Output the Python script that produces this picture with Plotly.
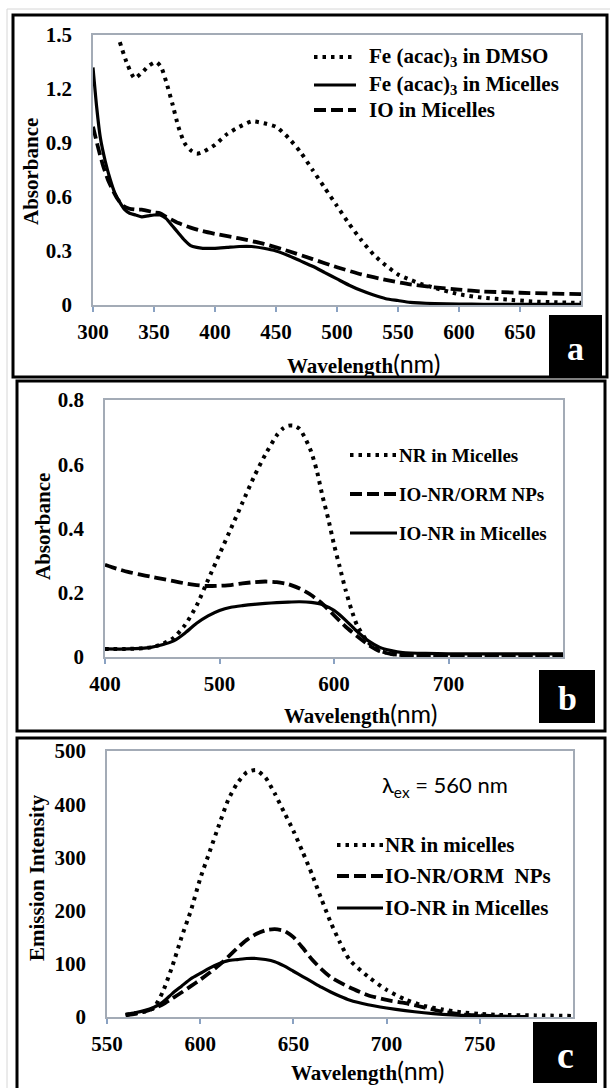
import plotly.graph_objects as go

W, H = 610, 1088

# ---------------- data ----------------
# Panel a
a_dmso_x = [322, 328, 334, 340, 346, 352, 356, 360, 365, 370, 375, 380, 385, 390, 400, 410, 420, 430, 440,
            450, 460, 470, 480, 490, 500, 510, 520, 530, 540, 550, 560, 570, 580, 600, 620, 640, 660, 680, 700]
a_dmso_y = [1.46, 1.34, 1.26, 1.29, 1.33, 1.35, 1.32, 1.24, 1.12, 0.99, 0.90, 0.86, 0.84, 0.85, 0.89, 0.95, 0.99,
            1.02, 1.01, 0.99, 0.93, 0.85, 0.75, 0.65, 0.55, 0.45, 0.36, 0.28, 0.22, 0.17, 0.14, 0.115, 0.095,
            0.06, 0.04, 0.03, 0.02, 0.015, 0.012]
a_mic_x = [300, 303, 306, 310, 314, 318, 322, 326, 330, 335, 340, 345, 350, 355, 360, 365, 370, 375, 380, 385,
           390, 400, 410, 420, 430, 440, 450, 460, 470, 480, 490, 500, 510, 520, 530, 540, 550, 560, 580, 600,
           620, 650, 700]
a_mic_y = [1.32, 1.10, 0.93, 0.80, 0.70, 0.62, 0.57, 0.53, 0.51, 0.50, 0.49, 0.495, 0.50, 0.50, 0.48, 0.44, 0.40,
           0.36, 0.33, 0.32, 0.315, 0.315, 0.32, 0.325, 0.325, 0.315, 0.30, 0.275, 0.245, 0.215, 0.18, 0.145,
           0.11, 0.08, 0.055, 0.035, 0.025, 0.015, 0.008, 0.005, 0.004, 0.003, 0.003]
a_io_x = [300, 304, 308, 312, 316, 320, 325, 330, 335, 340, 350, 355, 360, 370, 380, 390, 400, 420, 440, 460,
          480, 500, 520, 540, 560, 580, 600, 620, 650, 700]
a_io_y = [0.99, 0.88, 0.78, 0.70, 0.64, 0.59, 0.55, 0.535, 0.53, 0.53, 0.515, 0.51, 0.49, 0.455, 0.43, 0.41,
          0.395, 0.37, 0.34, 0.30, 0.255, 0.21, 0.17, 0.14, 0.115, 0.098, 0.085, 0.075, 0.068, 0.06]

# Panel b
b_nr_x = [400, 420, 440, 450, 460, 470, 480, 490, 500, 510, 520, 530, 540, 550, 555, 560, 565, 570, 575, 580,
          585, 590, 595, 600, 605, 610, 615, 620, 630, 640, 650, 660, 680, 700, 750, 800]
b_nr_y = [0.025, 0.025, 0.03, 0.04, 0.06, 0.10, 0.16, 0.24, 0.32, 0.40, 0.48, 0.56, 0.63, 0.69, 0.71, 0.72,
          0.72, 0.71, 0.68, 0.64, 0.58, 0.50, 0.43, 0.35, 0.28, 0.21, 0.15, 0.10, 0.045, 0.02, 0.01, 0.006,
          0.005, 0.005, 0.005, 0.005]
b_orm_x = [400, 410, 420, 430, 440, 450, 460, 470, 480, 490, 500, 510, 520, 530, 540, 550, 560, 570, 580, 590,
           600, 610, 620, 630, 640, 650, 660, 680, 700, 750, 800]
b_orm_y = [0.287, 0.275, 0.265, 0.257, 0.25, 0.243, 0.236, 0.229, 0.224, 0.221, 0.222, 0.224, 0.229, 0.233,
           0.235, 0.233, 0.227, 0.213, 0.193, 0.165, 0.13, 0.095, 0.065, 0.038, 0.018, 0.009, 0.006, 0.005,
           0.005, 0.005, 0.005]
b_mic_x = [400, 420, 440, 450, 460, 470, 480, 490, 500, 510, 520, 530, 540, 550, 560, 570, 580, 590, 600, 610,
           620, 630, 640, 650, 660, 680, 700, 750, 800]
b_mic_y = [0.025, 0.025, 0.03, 0.038, 0.05, 0.075, 0.105, 0.128, 0.145, 0.155, 0.16, 0.164, 0.167, 0.169,
           0.171, 0.172, 0.17, 0.163, 0.145, 0.115, 0.08, 0.05, 0.03, 0.02, 0.014, 0.011, 0.01, 0.01, 0.01]

# Panel c
c_nr_x = [560, 565, 570, 575, 580, 585, 590, 595, 600, 605, 610, 615, 620, 625, 630, 635, 640, 645, 650, 655,
          660, 665, 670, 675, 680, 690, 700, 710, 720, 730, 740, 750, 760, 780, 800]
c_nr_y = [4, 7, 10, 17, 48, 95, 150, 200, 260, 310, 360, 408, 440, 460, 464, 450, 420, 385, 350, 310, 268,
          222, 178, 140, 108, 76, 51, 33, 21, 14, 9, 6, 4, 3, 2]
c_orm_x = [560, 565, 570, 575, 580, 585, 590, 595, 600, 605, 610, 615, 620, 625, 630, 635, 640, 645, 650, 655,
           660, 665, 670, 680, 690, 700, 710, 720, 730, 740, 750, 760, 775]
c_orm_y = [3, 6, 10, 16, 24, 35, 46, 58, 70, 83, 97, 113, 130, 145, 156, 163, 165, 162, 150, 130, 108, 90, 75,
           56, 41, 32, 26, 18, 10, 5, 3, 1, 0]
c_mic_x = [560, 565, 570, 575, 580, 585, 590, 595, 600, 605, 610, 615, 620, 625, 630, 635, 640, 645, 650, 655,
           660, 665, 670, 675, 680, 690, 700, 710, 720, 730, 740, 750, 760, 775]
c_mic_y = [5, 8, 12, 18, 28, 44, 58, 72, 82, 92, 100, 106, 108, 110, 110, 108, 104, 96, 86, 76, 66, 56, 47,
           39, 32, 23, 17, 12, 8, 5, 3, 2, 1, 0]

# tick labels
a_xticks = [300, 350, 400, 450, 500, 550, 600, 650]
a_yticks = [0, 0.3, 0.6, 0.9, 1.2, 1.5]
a_ytext = ["0", "0.3", "0.6", "0.9", "1.2", "1.5"]
b_xticks = [400, 500, 600, 700]
b_yticks = [0, 0.2, 0.4, 0.6, 0.8]
b_ytext = ["0", "0.2", "0.4", "0.6", "0.8"]
c_xticks = [550, 600, 650, 700, 750]
c_yticks = [0, 100, 200, 300, 400, 500]

legend_a = ["Fe (acac)<sub>3</sub> in DMSO", "Fe (acac)<sub>3</sub> in Micelles", "IO in Micelles"]
legend_b = ["NR in Micelles", "IO-NR/ORM NPs", "IO-NR in Micelles"]
legend_c = ["NR in micelles", "IO-NR/ORM  NPs", "IO-NR in Micelles"]

# ---------------- styles ----------------
SERIF = "Liberation Serif, Times New Roman, serif"
SANS = "Lato, Open Sans, sans-serif"
DOT = "3.5px,5px"
DASH = "12px,5px"
STYLES = [dict(dash=DOT, width=4), dict(dash="solid", width=3.2), dict(dash=DASH, width=3.8)]


def px(x):
    return x / W


def py(y):
    return 1 - y / H


fig = go.Figure()

panels = [
    ("x", "y", [(a_dmso_x, a_dmso_y, 0), (a_mic_x, a_mic_y, 1), (a_io_x, a_io_y, 2)]),
    ("x2", "y2", [(b_nr_x, b_nr_y, 0), (b_orm_x, b_orm_y, 2), (b_mic_x, b_mic_y, 1)]),
    ("x3", "y3", [(c_nr_x, c_nr_y, 0), (c_orm_x, c_orm_y, 2), (c_mic_x, c_mic_y, 1)]),
]
for xa, ya, series in panels:
    for xs, ys, st in series:
        fig.add_trace(go.Scatter(x=xs, y=ys, xaxis=xa, yaxis=ya, mode="lines",
                                 line=dict(color="black", shape="spline", smoothing=0.6, **STYLES[st]),
                                 showlegend=False, hoverinfo="skip"))

AXLINE = "#a3abb6"
TICKC = "#8aa2c2"
tickfont = dict(family=SERIF, size=21, color="black", weight="bold")


def xaxis(rng, dom, tv, anchor):
    return dict(range=rng, domain=dom, tickvals=tv, ticks="outside", ticklen=5, tickwidth=1.5,
                tickcolor=TICKC, showline=True, linecolor=AXLINE, linewidth=1.5, mirror=True,
                showgrid=False, zeroline=False, tickfont=tickfont, anchor=anchor, ticklabelstandoff=2,
                fixedrange=True, automargin=False)


def yaxis(rng, dom, tv, tt, anchor):
    return dict(range=rng, domain=dom, tickvals=tv, ticktext=tt, ticks="", showline=True,
                linecolor=AXLINE, linewidth=1.5, mirror=True, showgrid=False, zeroline=False,
                tickfont=tickfont, anchor=anchor, ticklabelstandoff=15, fixedrange=True, automargin=False)


fig.update_layout(
    width=W, height=H, margin=dict(l=0, r=0, t=0, b=0, pad=0, autoexpand=False),
    paper_bgcolor="white", plot_bgcolor="white", showlegend=False,
    xaxis=xaxis([300, 700], [px(93), px(581)], a_xticks, "y"),
    yaxis=yaxis([0, 1.5], [py(305), py(35)], a_yticks, a_ytext, "x"),
    xaxis2=xaxis([400, 800], [px(105), px(563)], b_xticks, "y2"),
    yaxis2=yaxis([0, 0.8], [py(657), py(400)], b_yticks, b_ytext, "x2"),
    xaxis3=xaxis([550, 800], [px(107), px(573)], c_xticks, "y3"),
    yaxis3=yaxis([0, 500], [py(1017), py(751)], c_yticks, [str(v) for v in c_yticks], "x3"),
)

shapes = []
annotations = []

# outer light border and panel frames
shapes.append(dict(type="rect", xref="paper", yref="paper", x0=px(7), x1=px(615), y0=py(1095), y1=py(9),
                   line=dict(color="#d6d6d6", width=1)))
for (x0, y0, x1, y1) in [(13, 15, 607, 377), (17, 381, 605, 731), (17, 738, 605, 1094)]:
    shapes.append(dict(type="rect", xref="paper", yref="paper", x0=px(x0), x1=px(x1), y0=py(y1), y1=py(y0),
                       line=dict(color="black", width=3)))

# panel letter boxes
for (x0, y0, x1, y1, letter, fs) in [(549, 315, 602, 377, "a", 34), (539, 670, 595, 723, "b", 34),
                                     (533, 1022, 597, 1083, "c", 38)]:
    shapes.append(dict(type="rect", xref="paper", yref="paper", x0=px(x0), x1=px(x1), y0=py(y1), y1=py(y0),
                       fillcolor="black", line=dict(width=0)))
    annotations.append(dict(xref="paper", yref="paper", x=px((x0 + x1) / 2), y=py((y0 + y1) / 2 + 2),
                            text=letter, showarrow=False, xanchor="center", yanchor="middle",
                            font=dict(family=SERIF, size=fs, color="white", weight="bold")))


# legends (drawn manually to match the reference placement)
def legend(rows, x0, x1, tx, labels, order, fs, weight):
    for yy, lab, st in zip(rows, labels, order):
        s = STYLES[st]
        shapes.append(dict(type="line", xref="paper", yref="paper", x0=px(x0), x1=px(x1), y0=py(yy), y1=py(yy),
                           line=dict(color="black", width=s["width"], dash=s["dash"])))
        annotations.append(dict(xref="paper", yref="paper", x=px(tx), y=py(yy), text=lab, showarrow=False,
                                xanchor="left", yanchor="middle",
                                font=dict(family=SERIF, size=fs, color="black", weight=weight)))


legend([57, 85, 110], 314, 356, 367, legend_a, [0, 1, 2], 21, "bold")
legend([455, 494, 533], 350, 397, 397, legend_b, [0, 2, 1], 19, "bold")
legend([845, 876, 908], 337, 383, 383, legend_c, [0, 2, 1], 21, "bold")

# axis titles
xt = "Wavelength<span style='font-family:Lato;font-weight:normal;font-size:25px'>(nm)</span>"
for (cx, cy) in [(363, 363), (360, 713), (367, 1070)]:
    annotations.append(dict(xref="paper", yref="paper", x=px(cx), y=py(cy), text=xt, showarrow=False,
                            xanchor="center", yanchor="middle",
                            font=dict(family=SERIF, size=21, color="black", weight="bold")))
for (cx, cy, t) in [(31, 172, "Absorbance"), (43, 527, "Absorbance"), (37, 878, "Emission Intensity")]:
    annotations.append(dict(xref="paper", yref="paper", x=px(cx), y=py(cy), text=t, showarrow=False,
                            textangle=-90, xanchor="center", yanchor="middle",
                            font=dict(family=SERIF, size=21, color="black", weight="bold")))

annotations.append(dict(xref="paper", yref="paper", x=px(445), y=py(786), showarrow=False,
                        text="λ<sub>ex</sub> = 560 nm", xanchor="center", yanchor="middle",
                        font=dict(family=SANS, size=22, color="black")))

fig.update_layout(shapes=shapes, annotations=annotations)
fig.write_html("out.html")
